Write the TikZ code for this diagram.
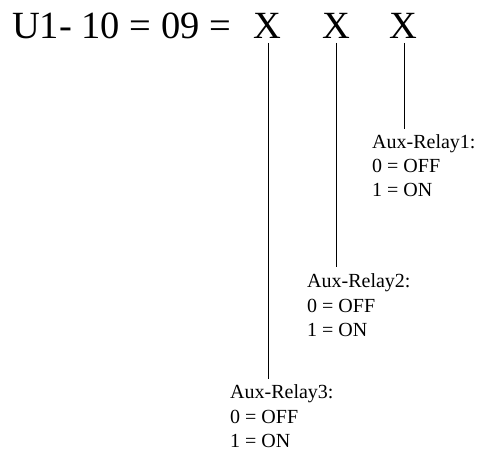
\documentclass[tikz,border=0pt]{standalone}
\usepackage{fontspec}
\setmainfont{Liberation Serif}
\begin{document}
\begin{tikzpicture}[x=1pt,y=-1pt,
  title/.style={font=\fontsize{38.5}{40}\selectfont, inner sep=0pt, anchor=base west},
  xdigit/.style={font=\fontsize{38.5}{40}\selectfont, inner sep=0pt, anchor=base},
  lbl/.style={font=\fontsize{20}{24}\selectfont, inner sep=0pt, anchor=base west},
  conn/.style={line width=1pt}]
\useasboundingbox (0,0) rectangle (479,452);
\node[title] (t) at (12,38) {U1- 10 = 09 =};
\node[xdigit] (x1) at (267.5,38) {X};
\node[xdigit] (x2) at (336,38) {X};
\node[xdigit] (x3) at (403.5,38) {X};
\coordinate (s1) at (268,43);
\coordinate (s2) at (336,43);
\coordinate (s3) at (404,43);
\coordinate (e1) at (268,379);
\coordinate (e2) at (336,267);
\coordinate (e3) at (404,129);
% Relay1
\node[lbl] (r1) at (372,148) {Aux-Relay1:};
\node[lbl] (r1a) at (372,172) {0 = OFF};
\node[lbl] (r1b) at (372,196) {1 = ON};
% Relay2
\node[lbl] (r2) at (307,287) {Aux-Relay2:};
\node[lbl] (r2a) at (307,312) {0 = OFF};
\node[lbl] (r2b) at (307,336) {1 = ON};
% Relay3
\node[lbl] (r3) at (230,398) {Aux-Relay3:};
\node[lbl] (r3a) at (230,423) {0 = OFF};
\node[lbl] (r3b) at (230,447) {1 = ON};
\draw[conn] (s1) -- (e1);
\draw[conn] (s2) -- (e2);
\draw[conn] (s3) -- (e3);
\end{tikzpicture}
\end{document}
